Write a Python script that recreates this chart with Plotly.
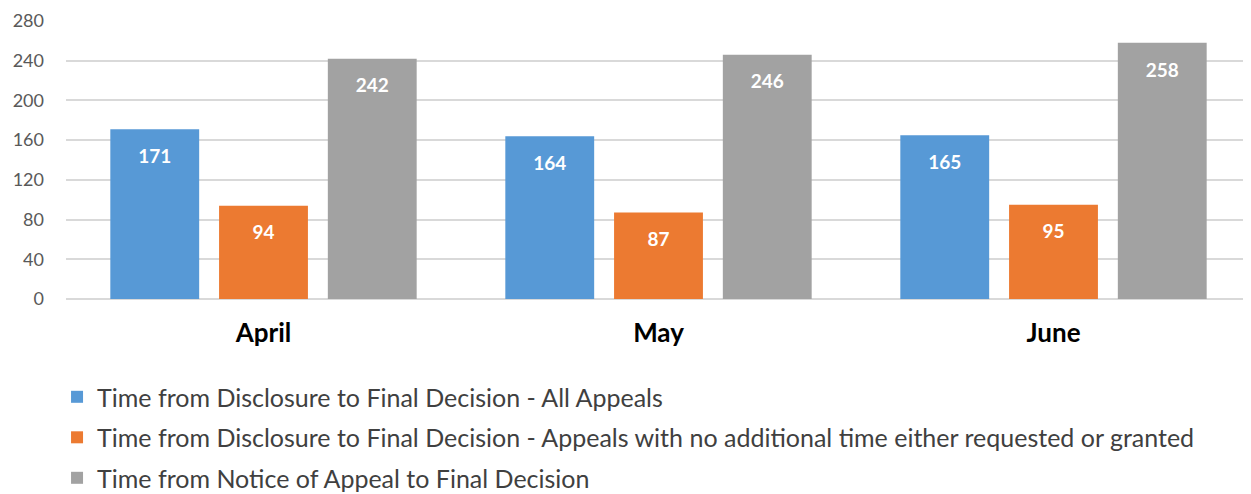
import plotly.graph_objects as go

months = ["April", "May", "June"]
all_appeals = [171, 164, 165]
no_extra_time = [94, 87, 95]
notice_to_decision = [242, 246, 258]

series_names = [
    "Time from Disclosure to Final Decision - All Appeals",
    "Time from Disclosure to Final Decision - Appeals with no additional time either requested or granted",
    "Time from Notice of Appeal to Final Decision",
]
series_values = [all_appeals, no_extra_time, notice_to_decision]
series_colors = ["#5799d6", "#ec7a31", "#a2a2a2"]

y_ticks = [0, 40, 80, 120, 160, 200, 240, 280]

FONT = "Lato"

fig = go.Figure()
for name, vals, color in zip(series_names, series_values, series_colors):
    fig.add_trace(go.Bar(
        x=months, y=vals, name=name,
        marker=dict(color=color, line=dict(width=0)),
        texttemplate="<span style='font-size:6px'>&nbsp;</span><br>%{y}",
        textposition="inside",
        insidetextanchor="end",
        textangle=0,
        textfont=dict(color="white", size=19, family=FONT, weight="bold"),
        legendgroup=name,
    ))

fig.update_layout(
    width=1251, height=494,
    margin=dict(l=58, r=8, t=13, b=203, autoexpand=False),
    paper_bgcolor="white", plot_bgcolor="white",
    barmode="group", bargap=0.174, bargroupgap=0.183,
    font=dict(family=FONT),
    showlegend=True,
    legend=dict(
        orientation="v",
        xref="container", x=0.0392, xanchor="left",
        yref="container", y=0.259, yanchor="top",
        font=dict(size=25, color="#404040", family=FONT),
        tracegroupgap=5, traceorder="grouped",
        bgcolor="rgba(0,0,0,0)",
    ),
    xaxis=dict(
        tickfont=dict(size=26, color="#000000", family=FONT, weight="bold"),
        ticklabelstandoff=16, showline=False, showgrid=False,
        automargin=False,
    ),
    yaxis=dict(
        range=[0, 280], tickvals=y_ticks, ticktext=[str(v) for v in y_ticks],
        gridcolor="#d9d9d9", gridwidth=1.5,
        zeroline=True, zerolinecolor="#d9d9d9", zerolinewidth=1.5,
        showline=False,
        tickfont=dict(size=18, color="#595959", family=FONT),
        ticklabelstandoff=21, automargin=False,
        ticklabeloverflow="allow",
    ),
)

fig.write_html("out.html")
